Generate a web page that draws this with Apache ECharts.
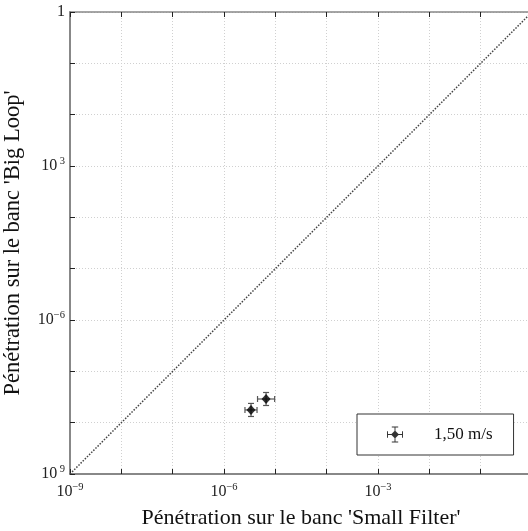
<!DOCTYPE html>
<html><head><meta charset="utf-8">
<script src="https://cdn.jsdelivr.net/npm/echarts@6/dist/echarts.min.js"></script>
<style>html,body{margin:0;padding:0;background:#fff}#c{width:528px;height:531px}</style>
</head><body><div id="c"></div>
<script>
const seriesName = '1,50 m/s';
const xTitle = "Pénétration sur le banc 'Small Filter'";
const yTitle = "Pénétration sur le banc 'Big Loop'";
const penSmallFilter = [3.36e-6, 6.6e-6];
const penSmallFilterLow = [2.56e-6, 4.5e-6];
const penSmallFilterHigh = [4.40e-6, 9.7e-6];
const penBigLoop = [1.77e-8, 2.89e-8];
const penBigLoopLow = [1.32e-8, 2.16e-8];
const penBigLoopHigh = [2.37e-8, 3.87e-8];
const diagonal = [[1e-9, 1e-9], [1, 1]];
const xLabelExps = [-9, -6, -3, 0];
const xLabelSups = ['−9', '−6', '−3', ''];
const yLabelExps = [0, -3, -6, -9];
const yLabelSups = ['', ' 3', '−6', ' 9'];

const FONT = 'Liberation Serif';
const points = penSmallFilter.map((x, i) => [x, penBigLoop[i]]);
const errData = penSmallFilter.map((x, i) => [x, penBigLoop[i], penSmallFilterLow[i], penSmallFilterHigh[i], penBigLoopLow[i], penBigLoopHigh[i]]);

function makeFmt(exps, sups) {
  return function (v) {
    const e = Math.round(Math.log10(v));
    const i = exps.indexOf(e);
    if (i < 0) return '';
    if (e === 0) return '{b|1}';
    return '{b|10}{s|' + sups[i] + '}';
  };
}
const rich = {
  b: { fontFamily: FONT, fontSize: 16, color: '#222' },
  s: { fontFamily: FONT, fontSize: 10.5, color: '#222', padding: [0, 0, 9, 0] }
};

const axisCommon = {
  type: 'log', logBase: 10, min: 1e-9, max: 1, interval: 1,
  axisLine: { show: true, lineStyle: { color: '#888', width: 2 } },
  axisTick: { show: true, inside: true, length: 5, lineStyle: { color: '#222', width: 1 } },
  minorTick: { show: false },
  splitLine: { show: true, lineStyle: { color: '#d0d0d0', type: [1, 2], width: 1 } }
};

const errIcon = 'path://M0,9.4h20v1.2h-20z M9.4,0h1.2v20h-1.2z M0,6h1.2v8h-1.2z M18.8,6h1.2v8h-1.2z M6,0h8v1.2h-8z M6,18.8h8v1.2h-8z M10,5L15,10L10,15L5,10z';

const option = {
  backgroundColor: '#fff',
  animation: false,
  grid: { left: 70, top: 12, width: 462, height: 462, containLabel: false, outerBoundsMode: 'none' },
  xAxis: [
    Object.assign({}, axisCommon, {
      position: 'bottom',
      name: xTitle, nameLocation: 'middle', nameGap: 33,
      nameTextStyle: { fontFamily: FONT, fontSize: 22, color: '#111' },
      axisLabel: { formatter: makeFmt(xLabelExps, xLabelSups), rich: rich, margin: 8, showMinLabel: true, showMaxLabel: true }
    }),
    Object.assign({}, axisCommon, {
      position: 'top',
      axisLine: { show: true, lineStyle: { color: '#888', width: 1.5 } },
      axisLabel: { show: false },
      splitLine: { show: false }
    })
  ],
  yAxis: [
    Object.assign({}, axisCommon, {
      position: 'left',
      name: yTitle, nameLocation: 'middle', nameGap: 45,
      nameTextStyle: { fontFamily: FONT, fontSize: 22.5, color: '#111' },
      axisLabel: { formatter: makeFmt(yLabelExps, yLabelSups), rich: rich, margin: 5, showMinLabel: true, showMaxLabel: true }
    })
  ],
  legend: {
    data: [{ name: seriesName, icon: errIcon }],
    left: 357, top: 414,
    orient: 'vertical',
    itemWidth: 16, itemHeight: 16,
    padding: [12, 21, 12, 30],
    backgroundColor: '#fff',
    borderColor: '#333', borderWidth: 1, borderRadius: 0,
    selectedMode: false,
    textStyle: { fontFamily: FONT, fontSize: 17, color: '#111', padding: [0, 0, 0, 26] }
  },
  series: [
    {
      type: 'line', data: diagonal, xAxisIndex: 0, yAxisIndex: 0,
      showSymbol: false, symbol: 'none', silent: true,
      lineStyle: { color: '#444', width: 1.5, type: [1.5, 1.5] }
    },
    {
      type: 'custom', name: 'err', xAxisIndex: 0, yAxisIndex: 0,
      data: errData, encode: { x: 0, y: 1 }, silent: true, z: 3,
      renderItem: function (params, api) {
        const c = api.coord([api.value(0), api.value(1)]);
        const xl = api.coord([api.value(2), api.value(1)]);
        const xh = api.coord([api.value(3), api.value(1)]);
        const yl = api.coord([api.value(0), api.value(4)]);
        const yh = api.coord([api.value(0), api.value(5)]);
        const st = { stroke: '#555', lineWidth: 1.2 };
        const cap = 3;
        return {
          type: 'group', children: [
            { type: 'line', shape: { x1: xl[0], y1: c[1], x2: xh[0], y2: c[1] }, style: st },
            { type: 'line', shape: { x1: xl[0], y1: c[1] - cap, x2: xl[0], y2: c[1] + cap }, style: st },
            { type: 'line', shape: { x1: xh[0], y1: c[1] - cap, x2: xh[0], y2: c[1] + cap }, style: st },
            { type: 'line', shape: { x1: c[0], y1: yl[1], x2: c[0], y2: yh[1] }, style: st },
            { type: 'line', shape: { x1: c[0] - cap, y1: yl[1], x2: c[0] + cap, y2: yl[1] }, style: st },
            { type: 'line', shape: { x1: c[0] - cap, y1: yh[1], x2: c[0] + cap, y2: yh[1] }, style: st }
          ]
        };
      }
    },
    {
      type: 'scatter', name: seriesName, data: points, xAxisIndex: 0, yAxisIndex: 0,
      symbol: 'diamond', symbolSize: [9, 10], z: 4,
      itemStyle: { color: '#000' }
    }
  ]
};
const chart = echarts.init(document.getElementById('c'), null, { renderer: 'canvas' });
chart.setOption(option);
</script></body></html>
